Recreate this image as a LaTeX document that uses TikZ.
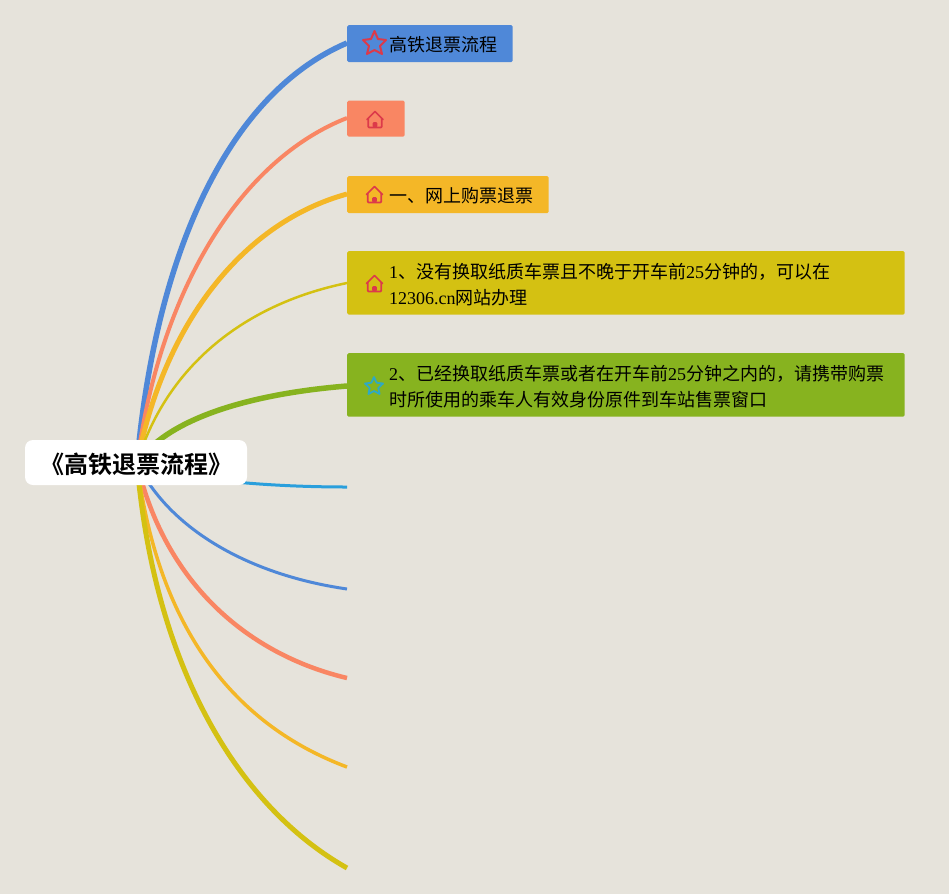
\documentclass[tikz,border=0pt]{standalone}
\usepackage{fontspec}
\setmainfont{Liberation Serif}
\newfontfamily\cjk{Noto Sans CJK SC}
\newfontfamily\cjkb{Noto Sans CJK SC Bold}
\definecolor{bgc}{HTML}{E6E3DB}
\definecolor{cblue}{HTML}{4F88D8}
\definecolor{csal}{HTML}{F98663}
\definecolor{corg}{HTML}{F4B727}
\definecolor{cyel}{HTML}{D4C112}
\definecolor{cgrn}{HTML}{87B31F}
\definecolor{ccya}{HTML}{2A9FDC}
\definecolor{cred}{HTML}{DC3A4A}
\definecolor{ctea}{HTML}{2FA9C4}
\XeTeXlinebreaklocale "zh"
\newcommand{\zh}[1]{{\cjk #1}}
\tikzset{
  x=1pt,y=-1pt,
  topic/.style={anchor=north west,inner sep=0pt,rounded corners=1.5pt},
  lbl/.style={anchor=west,inner sep=0pt,font=\fontsize{18}{26}\selectfont,align=left,text=black},
  branch/.style={line cap=butt},
  homeicon/.pic={
    \draw[#1,line width=1.7pt,line join=round,rounded corners=0.8pt] (-6.7,-1.5)--(-6.7,8)--(6.7,8)--(6.7,-1.5);
    \draw[#1,line width=1.7pt,line join=round,line cap=round] (-8,0)--(0,-8)--(8,0);
    \fill[#1,rounded corners=1.2pt] (-2.4,8)--(-2.4,2.5)--(2.4,2.5)--(2.4,8)--cycle;
  }
}
\begin{document}
\begin{tikzpicture}
\useasboundingbox (0,0) rectangle (949,894);
\fill[bgc] (0,0) rectangle (949,894);
\coordinate (hub) at (137,463);
\coordinate (e6) at (347,487);
\coordinate (e7) at (347,589);
\coordinate (e8) at (347,678);
\coordinate (e9) at (347,767);
\coordinate (e10) at (347,868);
\coordinate (s1) at (347,43);
\coordinate (s2) at (347,118);
\coordinate (s3) at (347,194);
\coordinate (s4) at (347,283);
\coordinate (s5) at (347,386);
\draw[branch,cblue,line width=5.5pt] (hub) .. controls (155,260) and (225,95) .. (s1);
\draw[branch,csal,line width=4pt] (hub) .. controls (160,290) and (240,160) .. (s2);
\draw[branch,corg,line width=5pt] (hub) .. controls (165,320) and (245,222) .. (s3);
\draw[branch,cyel,line width=2.5pt] (hub) .. controls (165,370) and (240,305) .. (s4);
\draw[branch,cgrn,line width=5.5pt] (hub) .. controls (170,415) and (260,393) .. (s5);
\draw[branch,ccya,line width=3pt] (hub) .. controls (170,478) and (260,487) .. (e6);
\draw[branch,cblue,line width=3pt] (hub) .. controls (170,530) and (250,575) .. (e7);
\draw[branch,csal,line width=4.5pt] (hub) .. controls (165,585) and (250,655) .. (e8);
\draw[branch,corg,line width=3.5pt] (hub) .. controls (158,630) and (235,725) .. (e9);
\draw[branch,cyel,line width=5pt] (hub) .. controls (154,665) and (237,806) .. (e10);

\node[fill=white,rounded corners=8pt,minimum width=222pt,minimum height=45pt,inner sep=0pt] (bg) at (136,462.5) {};
\node[inner sep=0pt] (root) at (136.5,464) {\cjkb\fontsize{24}{28}\selectfont 《高铁退票流程》};

\node[topic,fill=cblue,minimum width=165.5pt,minimum height=37pt] (t1) at (347,25) {};
\node[topic,fill=csal,minimum width=57.5pt,minimum height=36pt] (t2) at (347,100.5) {};
\node[topic,fill=corg,minimum width=201.5pt,minimum height=37pt] (t3) at (347,176) {};
\node[topic,fill=cyel,minimum width=557.5pt,minimum height=63.5pt] (t4) at (347,251) {};
\node[topic,fill=cgrn,minimum width=557.5pt,minimum height=63.5pt] (t5) at (347,353) {};

\node[lbl] (l1) at (389.5,44.5) {\zh{高铁退票流程}};
\node[lbl] (l3) at (389.5,195.5) {\zh{一、网上购票退票}};
\node[lbl] (l4) at (389,284.5) {1\zh{、没有换取纸质车票且不晚于开车前}25\zh{分钟的，可以在}\\12306.cn\zh{网站办理}};
\node[lbl] (l5) at (389,386.5) {2\zh{、已经换取纸质车票或者在开车前}25\zh{分钟之内的，请携带购票}\\\zh{时所使用的乘车人有效身份原件到车站售票窗口}};

\pic at (375,119.5) {homeicon={cred}};
\pic at (374.5,194.5) {homeicon={cred}};
\pic at (374.5,283.5) {homeicon={cred}};
\draw[cred,line width=2pt,line join=round] (374.5,31)--(378,39)--(386,40)--(380,46)--(382,54)--(374.5,50)--(367,54)--(369,46)--(363,40)--(371,39)--cycle;
\draw[ctea,line width=1.8pt,line join=round] (374,377)--(376.6,382.7)--(383,383.5)--(378.3,388)--(379.6,394)--(374,391)--(368.4,394)--(369.7,388)--(365,383.5)--(371.4,382.7)--cycle;
\end{tikzpicture}
\end{document}
